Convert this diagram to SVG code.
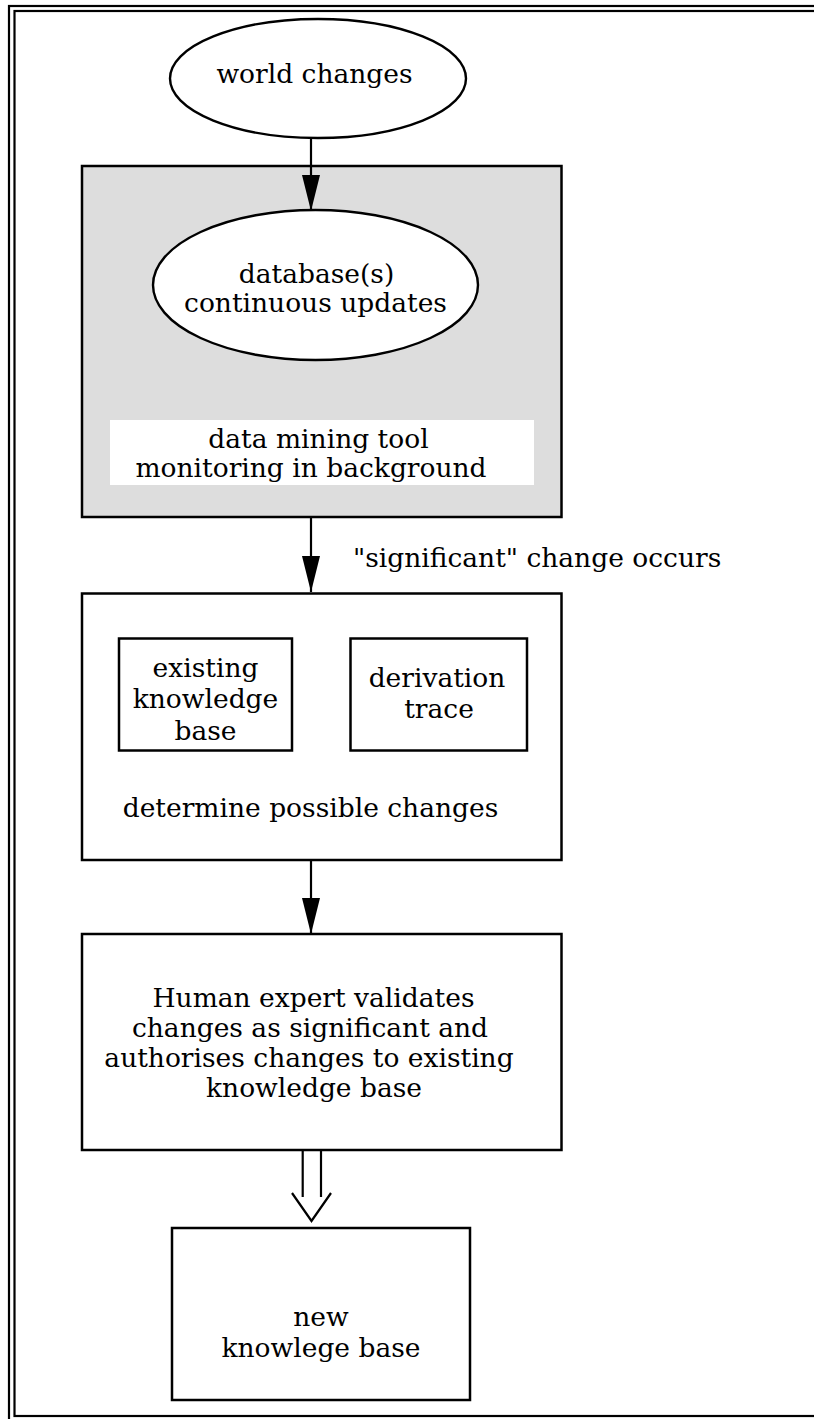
<svg xmlns="http://www.w3.org/2000/svg" width="814" height="1419" viewBox="0 0 814 1419">
<defs>
<marker id="ah" viewBox="0 0 36 18" refX="36" refY="9" markerWidth="36" markerHeight="18" markerUnits="userSpaceOnUse" orient="auto"><path d="M0,0 L36,9 L0,18 z" fill="#000"/></marker>
</defs>
<style>
text{font-family:"DejaVu Serif","Liberation Serif",serif;font-size:26.5px;fill:#000;text-anchor:middle}
.box{fill:#fff;stroke:#000;stroke-width:2.5}
.ell{fill:#fff;stroke:#000;stroke-width:2.4}
.frame{fill:none;stroke:#000;stroke-width:2.2}
.conn{fill:none;stroke:#000;stroke-width:2.2}
</style>
<rect width="814" height="1419" fill="#fff"/>
<g id="frame">
<rect class="frame" x="9" y="6" width="900" height="1430"/>
<rect class="frame" x="14.5" y="11" width="900" height="1405"/>
</g>
<g id="world">
<ellipse class="ell" cx="318" cy="78.5" rx="148" ry="59.5"/>
<text x="314.5" y="83">world changes</text>
</g>
<g id="monitor">
<rect x="82" y="166" width="479.5" height="351" fill="#dddddd" stroke="#000" stroke-width="2.5"/>
<rect x="110" y="420" width="424" height="65" fill="#fff"/>
<text x="318.5" y="448">data mining tool</text>
<text x="311" y="477">monitoring in background</text>
</g>
<g id="database">
<ellipse class="ell" cx="315.5" cy="285" rx="162.5" ry="75"/>
<text x="316.5" y="283">database(s)</text>
<text x="315.5" y="312">continuous updates</text>
</g>
<g id="determine">
<rect class="box" x="82" y="593.5" width="479.5" height="266.5"/>
<text x="310.5" y="817">determine possible changes</text>
</g>
<g id="existing">
<rect class="box" x="119" y="638.5" width="173" height="112"/>
<text x="205.5" y="677">existing</text>
<text x="205.5" y="708">knowledge</text>
<text x="205.5" y="740">base</text>
</g>
<g id="trace">
<rect class="box" x="350.5" y="638.5" width="176.5" height="112"/>
<text x="437" y="687">derivation</text>
<text x="439" y="718">trace</text>
</g>
<g id="expert">
<rect class="box" x="82" y="934" width="479.5" height="216"/>
<text x="313.5" y="1007">Human expert validates</text>
<text x="310" y="1037">changes as significant and</text>
<text x="309" y="1067">authorises changes to existing</text>
<text x="314" y="1097">knowledge base</text>
</g>
<g id="newkb">
<rect class="box" x="172" y="1228" width="298" height="172"/>
<text x="321" y="1326">new</text>
<text x="321" y="1357">knowlege base</text>
</g>
<g id="connectors">
<line class="conn" x1="311" y1="138" x2="311" y2="211" marker-end="url(#ah)"/>
<line class="conn" x1="311" y1="517" x2="311" y2="592" marker-end="url(#ah)"/>
<text x="353" y="567" style="text-anchor:start">"significant" change occurs</text>
<line class="conn" x1="311" y1="860" x2="311" y2="934" marker-end="url(#ah)"/>
<line class="conn" x1="302.7" y1="1150" x2="302.7" y2="1197"/>
<line class="conn" x1="321" y1="1150" x2="321" y2="1197"/>
<polyline class="conn" stroke-width="2.5" points="292,1193 311.5,1221 331,1193"/>
</g>
</svg>
